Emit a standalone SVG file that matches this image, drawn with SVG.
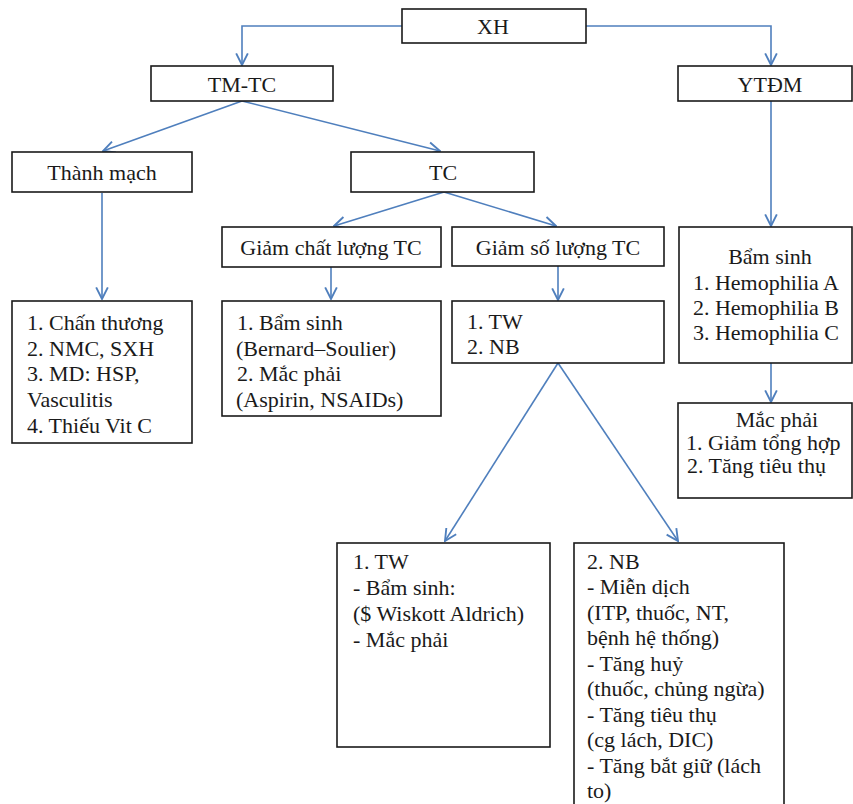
<svg xmlns="http://www.w3.org/2000/svg" width="853" height="804" viewBox="0 0 853 804">
<style>
.box{fill:#fff;stroke:#1a1a1a;stroke-width:1.6}
.t{font-family:"Liberation Serif","Times New Roman",serif;font-size:22px;fill:#1a1a1a}
.c{text-anchor:middle}
.ln{fill:none;stroke:#4f7fbd;stroke-width:1.6;marker-end:url(#ah)}
</style>
<defs>
<marker id="ah" viewBox="0 0 12 12" refX="11" refY="6" markerWidth="14" markerHeight="14" markerUnits="userSpaceOnUse" orient="auto">
<path d="M1,1 L11,6 L1,11" fill="none" stroke="#4f7fbd" stroke-width="1.6"/>
</marker>
</defs>
<rect width="853" height="804" fill="#fff"/>
<g id="connectors">
<path class="ln" d="M402,26 H242 V65"/>
<path class="ln" d="M586,26 H771 V65"/>
<path class="ln" d="M242,101 L103,151"/>
<path class="ln" d="M242,101 L440,151"/>
<path class="ln" d="M102,193 V299"/>
<path class="ln" d="M444,192 L334,226"/>
<path class="ln" d="M444,192 L556,226"/>
<path class="ln" d="M331,267 V299"/>
<path class="ln" d="M558,266 V300"/>
<path class="ln" d="M771,101 V226"/>
<path class="ln" d="M771,363 V402"/>
<path class="ln" d="M558,363 L445,541"/>
<path class="ln" d="M558,363 L678,541"/>
</g>
<g id="xh"><rect class="box" x="402" y="9" width="184" height="34"/><text class="t c" x="493" y="34">XH</text></g>
<g id="tmtc"><rect class="box" x="151" y="66" width="182" height="35"/><text class="t c" x="242" y="92">TM-TC</text></g>
<g id="ytdm"><rect class="box" x="678" y="66" width="174" height="35"/><text class="t c" x="770" y="92">YTĐM</text></g>
<g id="thanhmach"><rect class="box" x="12" y="152" width="180" height="40"/><text class="t c" x="102" y="180">Thành mạch</text></g>
<g id="tc"><rect class="box" x="351" y="152" width="183" height="40"/><text class="t c" x="443" y="180">TC</text></g>
<g id="giamchatluong"><rect class="box" x="222" y="227" width="219" height="40"/><text class="t c" x="331" y="255">Giảm chất lượng TC</text></g>
<g id="giamsoluong"><rect class="box" x="452" y="227" width="212" height="39"/><text class="t c" x="558" y="255">Giảm số lượng TC</text></g>
<g id="thanhmach-list"><rect class="box" x="12" y="301" width="180" height="142"/>
<text class="t" x="27" y="330">1. Chấn thương</text>
<text class="t" x="27" y="356">2. NMC, SXH</text>
<text class="t" x="27" y="381">3. MD: HSP,</text>
<text class="t" x="27" y="407">Vasculitis</text>
<text class="t" x="27" y="433">4. Thiếu Vit C</text></g>
<g id="chatluong-list"><rect class="box" x="222" y="301" width="219" height="115"/>
<text class="t" x="237" y="330">1. Bẩm sinh</text>
<text class="t" x="236" y="356">(Bernard–Soulier)</text>
<text class="t" x="237" y="381">2. Mắc phải</text>
<text class="t" x="236" y="407">(Aspirin, NSAIDs)</text></g>
<g id="soluong-list"><rect class="box" x="452" y="301" width="212" height="62"/>
<text class="t" x="467" y="329">1. TW</text>
<text class="t" x="467" y="354">2. NB</text></g>
<g id="bamsinh"><rect class="box" x="679" y="227" width="173" height="136"/>
<text class="t c" x="770" y="264">Bẩm sinh</text>
<text class="t c" x="766" y="290">1. Hemophilia A</text>
<text class="t c" x="766" y="315">2. Hemophilia B</text>
<text class="t c" x="766" y="340">3. Hemophilia C</text></g>
<g id="macphai"><rect class="box" x="678" y="403" width="174" height="95"/>
<text class="t c" x="777" y="427">Mắc phải</text>
<text class="t" x="686" y="450">1. Giảm tổng hợp</text>
<text class="t" x="687" y="473">2. Tăng tiêu thụ</text></g>
<g id="tw"><rect class="box" x="337" y="543" width="213" height="204"/>
<text class="t" x="353" y="569">1. TW</text>
<text class="t" x="353" y="595">- Bẩm sinh:</text>
<text class="t" x="353" y="621">($ Wiskott Aldrich)</text>
<text class="t" x="353" y="647">- Mắc phải</text></g>
<g id="nb"><rect class="box" x="574" y="543" width="210" height="275"/>
<text class="t" x="587" y="569">2. NB</text>
<text class="t" x="587" y="594">- Miễn dịch</text>
<text class="t" x="587" y="620">(ITP, thuốc, NT,</text>
<text class="t" x="587" y="645">bệnh hệ thống)</text>
<text class="t" x="587" y="671">- Tăng huỷ</text>
<text class="t" x="587" y="696">(thuốc, chủng ngừa)</text>
<text class="t" x="587" y="722">- Tăng tiêu thụ</text>
<text class="t" x="587" y="747">(cg lách, DIC)</text>
<text class="t" x="587" y="773">- Tăng bắt giữ (lách</text>
<text class="t" x="587" y="798">to)</text></g>
</svg>
